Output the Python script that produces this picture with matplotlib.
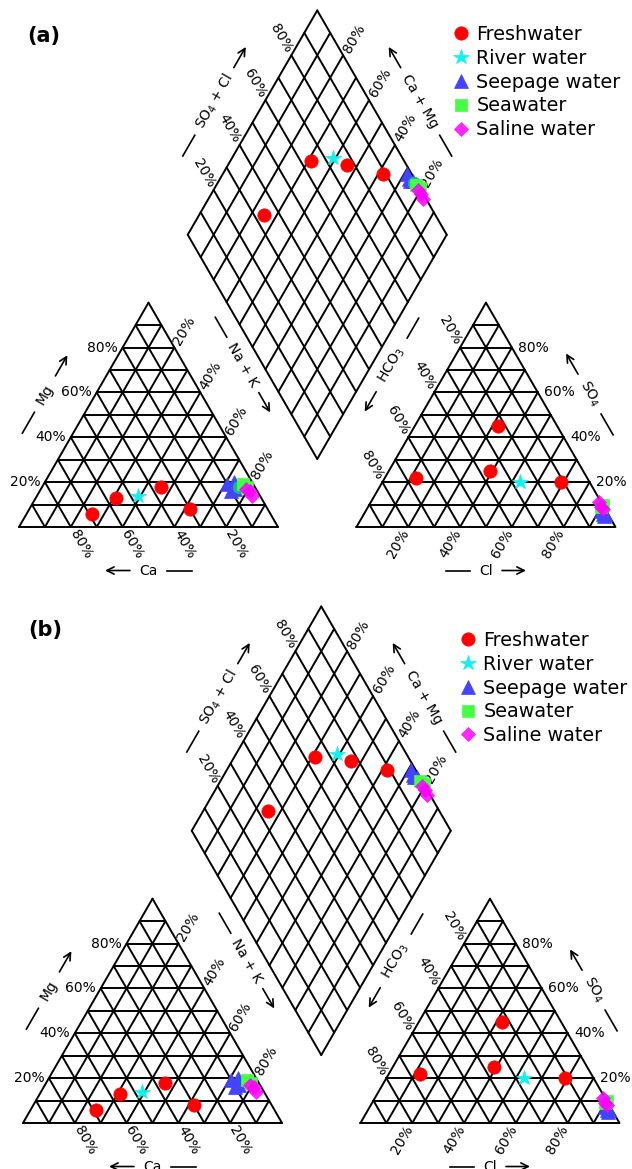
import numpy as np
import matplotlib
matplotlib.use("Agg")
import matplotlib.pyplot as plt

plt.rcParams["font.family"] = ["DejaVu Sans"]
plt.rcParams["mathtext.fontset"] = "dejavusans"

# ---- sample compositions (meq %) ----
# cations: Ca, Mg, Na+K ; anions: HCO3, SO4, Cl
fresh_ca = [69, 56, 36, 30]
fresh_mg = [6, 13, 18, 8]
fresh_na = [25, 31, 46, 62]
fresh_hco3 = [66, 36, 23, 11]
fresh_so4 = [22, 25, 45, 20]
fresh_cl = [12, 39, 32, 69]

river_ca = [47]
river_mg = [14]
river_na = [39]
river_hco3 = [27]
river_so4 = [20]
river_cl = [53]

seep_ca = [10, 7, 8, 10]
seep_mg = [19, 20, 17, 16]
seep_na = [71, 73, 75, 74]
seep_hco3 = [2, 2, 1, 2]
seep_so4 = [6, 7, 6, 5]
seep_cl = [92, 91, 93, 93]

mixed_ca = [6]
mixed_mg = [18]
mixed_na = [76]
mixed_hco3 = [1]
mixed_so4 = [9]
mixed_cl = [90]

sea_ca = [3, 4]
sea_mg = [18, 19]
sea_na = [79, 77]
sea_hco3 = [0, 1]
sea_so4 = [10, 9]
sea_cl = [90, 90]

saline_ca = [4, 3, 3]
saline_mg = [17, 16, 14]
saline_na = [79, 81, 83]
saline_hco3 = [1, 1, 1]
saline_so4 = [11, 9, 8]
saline_cl = [88, 90, 91]

legend_labels = ["Freshwater", "River water", "Seepage water", "Seawater", "Saline water"]
tick_values = [20, 40, 60, 80]

# ---- Piper geometry (triangle side = 1) ----
GAP = 0.303
H = np.sqrt(3) / 2
PX = 1 / 259.0          # one output pixel in diagram units
X_AN = 1 + GAP          # left corner of the anion triangle
LW = 1.4
FS_TICK = 10
FS_TITLE = 10
FS_LEG = 13.8


def cation_xy(ca, mg, na):
    ca, mg, na = (np.asarray(v, float) for v in (ca, mg, na))
    tot = ca + mg + na
    mg, na = mg / tot, na / tot
    return na + 0.5 * mg, H * mg


def anion_xy(hco3, so4, cl):
    hco3, so4, cl = (np.asarray(v, float) for v in (hco3, so4, cl))
    tot = hco3 + so4 + cl
    so4, cl = so4 / tot, cl / tot
    return X_AN + cl + 0.5 * so4, H * so4


def diamond_xy(cm, sc):
    bx, by = 1 + GAP / 2, H * GAP
    cm = np.asarray(cm, float)
    sc = np.asarray(sc, float)
    return bx + 0.5 * (sc - cm), by + H * (sc + cm)


def project(ca, mg, na, hco3, so4, cl):
    ca, mg, na, hco3, so4, cl = (np.asarray(v, float) for v in (ca, mg, na, hco3, so4, cl))
    cm = (ca + mg) / (ca + mg + na)
    sc = (so4 + cl) / (hco3 + so4 + cl)
    cx, cy = cation_xy(ca, mg, na)
    ax_, ay_ = anion_xy(hco3, so4, cl)
    dx, dy = diamond_xy(cm, sc)
    return np.concatenate([cx, ax_, dx]), np.concatenate([cy, ay_, dy])


def draw_grid(ax):
    kw = dict(color="black", lw=LW, solid_capstyle="round", zorder=1)
    for x0 in (0.0, X_AN):
        for i in range(10):
            t = i / 10
            ax.plot([x0 + 0.5 * t, x0 + 1 - 0.5 * t], [H * t, H * t], **kw)
            ax.plot([x0 + 1 - t, x0 + 0.5 * (1 - t)], [0, H * (1 - t)], **kw)
            ax.plot([x0 + t, x0 + t + 0.5 * (1 - t)], [0, H * (1 - t)], **kw)
    for i in range(11):
        t = i / 10
        xs, ys = diamond_xy([t, t], [0, 1])
        ax.plot(xs, ys, **kw)
        xs, ys = diamond_xy([0, 1], [t, t])
        ax.plot(xs, ys, **kw)


def draw_ticks(ax):
    kw = dict(fontsize=FS_TICK, rotation_mode="anchor")
    ox, oy = 10 * PX, 17 * PX
    for v in tick_values:
        p = v / 100
        s = f"{v}%"
        # cation triangle
        ax.text(0.5 * p - 4.5 * PX, H * p, s, ha="right", va="center", **kw)
        ax.text(1 - p + ox, -oy, s, rotation=-60, ha="center", va="center", **kw)
        ax.text(p + 0.5 * (1 - p) + ox, H * (1 - p) + oy, s, rotation=60,
                ha="center", va="center", **kw)
        # anion triangle
        ax.text(X_AN + 1 - 0.5 * p + 6.5 * PX, H * p, s, ha="left", va="center", **kw)
        ax.text(X_AN + p - ox, -oy, s, rotation=60, ha="center", va="center", **kw)
        ax.text(X_AN + 0.5 * (1 - p) - ox, H * (1 - p) + oy, s, rotation=-60,
                ha="center", va="center", **kw)
        # diamond
        x, y = diamond_xy(1, p)
        ax.text(x - ox, y + oy, s, rotation=-60, ha="center", va="center", **kw)
        x, y = diamond_xy(p, 1)
        ax.text(x + 11 * PX, y + oy, s, rotation=60, ha="center", va="center", **kw)


def axis_title(ax, cx, cy, text, angle, inner, outer, arrow_sign):
    a = np.radians(angle)
    d = np.array([np.cos(a), np.sin(a)])
    c = np.array([cx, cy])
    ax.text(cx, cy, text, rotation=angle, rotation_mode="anchor",
            ha="center", va="center", fontsize=FS_TITLE)
    p1 = c - arrow_sign * inner * PX * d
    p2 = c - arrow_sign * outer * PX * d
    ax.plot([p1[0], p2[0]], [p1[1], p2[1]], color="black", lw=1.2)
    a1 = c + arrow_sign * inner * PX * d
    a2 = c + arrow_sign * outer * PX * d
    ax.annotate("", xy=a2, xytext=a1,
                arrowprops=dict(arrowstyle="->", lw=1.2, color="black",
                                shrinkA=0, shrinkB=0, mutation_scale=13))


def draw_titles(ax):
    axis_title(ax, 0.100, 0.513, "Mg", 60, 21, 45, 1)
    axis_title(ax, 0.500, -0.168, "Ca", 0, 18.5, 43.5, -1)
    axis_title(ax, 0.864, 0.626, "Na + K", -60, 32, 55, 1)
    axis_title(ax, 0.754, 1.643, r"SO$_4$ + Cl", 60, 39, 63, 1)
    axis_title(ax, 1.549, 1.643, "Ca + Mg", -60, 39, 63, -1)
    axis_title(ax, 1.439, 0.626, r"HCO$_3$", 60, 31, 54, -1)
    axis_title(ax, 2.203, 0.513, r"SO$_4$", -60, 23, 47, -1)
    axis_title(ax, X_AN + 0.5, -0.168, "Cl", 0, 16, 40, 1)


groups = [
    dict(data=(fresh_ca, fresh_mg, fresh_na, fresh_hco3, fresh_so4, fresh_cl),
         marker="o", color="#ff0000", ms=9.6, alpha=1.0),
    dict(data=(river_ca, river_mg, river_na, river_hco3, river_so4, river_cl),
         marker="*", color="#14f0f0", ms=11.5, alpha=1.0),
    dict(data=(seep_ca, seep_mg, seep_na, seep_hco3, seep_so4, seep_cl),
         marker="^", color="#4444ff", ms=9.8, alpha=1.0),
    dict(data=(sea_ca, sea_mg, sea_na, sea_hco3, sea_so4, sea_cl),
         marker="s", color="#44ff44", ms=8.6, alpha=1.0),
    dict(data=(saline_ca, saline_mg, saline_na, saline_hco3, saline_so4, saline_cl),
         marker="D", color="#ff00ff", ms=7.6, alpha=0.85),
]
mixed = dict(data=(mixed_ca, mixed_mg, mixed_na, mixed_hco3, mixed_so4, mixed_cl),
             marker="o", color="#1ab39e", ms=9.0, alpha=1.0)

panels = [
    dict(rect=[0, (1169 - 596) / 1169, 1, 596 / 1169], origin=(19, 527), span=(0, 596),
         tag="(a)", tag_xy=(0.0965, 1.896), leg_xy=(1.7066, 1.907), mixed=True),
    dict(rect=[0, 0, 1, 573 / 1169], origin=(23, 1123), span=(596, 1169),
         tag="(b)", tag_xy=(0.085, 1.903), leg_xy=(1.718, 1.869), mixed=False),
]

fig = plt.figure(figsize=(6.32, 11.69), dpi=100)
for pnl in panels:
    ax = fig.add_axes(pnl["rect"])
    ox, oy = pnl["origin"]
    top, bot = pnl["span"]
    ax.set_xlim(-ox * PX, (632 - ox) * PX)
    ax.set_ylim((oy - bot) * PX, (oy - top) * PX)
    ax.axis("off")

    draw_grid(ax)
    draw_ticks(ax)
    draw_titles(ax)

    handles = []
    order = groups[:3] + ([mixed] if pnl["mixed"] else []) + groups[3:]
    for g in order:
        xs, ys = project(*g["data"])
        h, = ax.plot(xs, ys, ls="none", marker=g["marker"], color=g["color"],
                     ms=g["ms"], mec=g["color"], mew=0.5, alpha=g["alpha"], zorder=3)
        if g is not mixed:
            handles.append(h)

    mx, my = pnl["leg_xy"]
    fs_px = FS_LEG / 72 * 100
    ax.legend(handles, legend_labels, loc="upper left",
              bbox_to_anchor=(mx - 0.4 * fs_px * PX, my + 8 * PX),
              bbox_transform=ax.transData, frameon=False, fontsize=FS_LEG,
              handlelength=0.8, handletextpad=0.4, labelspacing=0.25,
              borderpad=0, borderaxespad=0, numpoints=1)

    ax.text(*pnl["tag_xy"], pnl["tag"], fontsize=15, fontweight="bold",
            ha="center", va="center")

fig.savefig("out.png", dpi=100)
